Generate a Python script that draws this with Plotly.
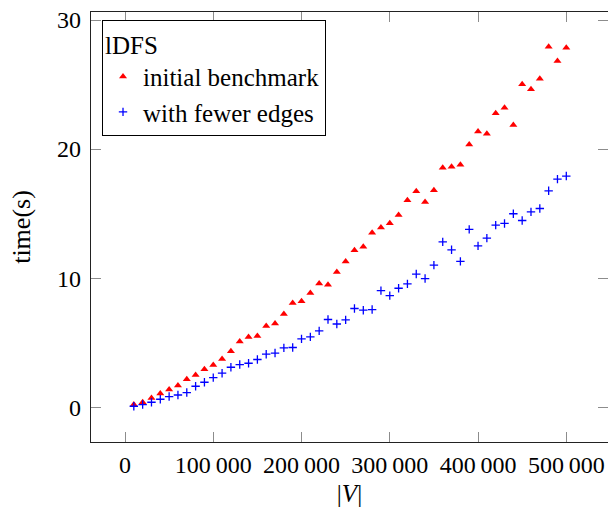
import plotly.graph_objects as go

# Number of vertices |V| for each run
vertices = [k * 10000 for k in range(1, 51)]

# Running times (s) of lDFS
initial_benchmark = [
    0.21, 0.39, 0.72, 1.06, 1.37, 1.68, 2.17, 2.50, 2.95, 3.28,
    3.74, 4.34, 5.10, 5.44, 5.53, 6.29, 6.49, 7.22, 8.08, 8.22,
    8.85, 9.58, 9.50, 10.48, 11.29, 12.16, 12.43, 13.51, 13.93, 14.25,
    14.90, 16.04, 16.74, 15.90, 16.81, 18.55, 18.63, 18.79, 20.36, 21.37,
    21.19, 22.77, 23.20, 21.86, 25.02, 24.63, 25.45, 27.93, 26.82, 27.85,
]
fewer_edges = [
    0.08, 0.21, 0.39, 0.62, 0.83, 0.95, 1.14, 1.63, 1.94, 2.30,
    2.64, 3.10, 3.31, 3.41, 3.70, 4.11, 4.20, 4.60, 4.63, 5.30,
    5.45, 5.92, 6.80, 6.45, 6.77, 7.65, 7.52, 7.57, 9.04, 8.65,
    9.22, 9.56, 10.32, 9.97, 11.01, 12.81, 12.20, 11.30, 13.78, 12.50,
    13.10, 14.11, 14.24, 14.99, 14.47, 15.14, 15.40, 16.77, 17.67, 17.91,
]

x_tick_vals = [0, 100000, 200000, 300000, 400000, 500000]
x_tick_text = ["0", "100\u2009000", "200\u2009000", "300\u2009000", "400\u2009000", "500\u2009000"]
y_tick_vals = [0, 10, 20, 30]
y_tick_text = ["0", "10", "20", "30"]

FONT = "Liberation Serif"

fig = go.Figure()
fig.add_trace(go.Scatter(
    x=vertices, y=initial_benchmark, mode="markers", name="initial benchmark",
    marker=dict(symbol="triangle-up", size=7, color="red", line=dict(width=0)),
))
fig.add_trace(go.Scatter(
    x=vertices, y=fewer_edges, mode="markers", name="with fewer edges",
    marker=dict(symbol="cross-thin", size=6, color="blue",
                line=dict(color="blue", width=1.3)),
))

axis_common = dict(
    showgrid=False, zeroline=False,
    showline=True, linecolor="#222222", linewidth=1.3, mirror="ticks",
    ticks="inside", ticklen=10, tickwidth=1.3, tickcolor="#8c8c8c",
    tickfont=dict(family=FONT, size=24, color="black"),
    tickmode="array",
)

fig.update_layout(
    width=608, height=508,
    margin=dict(l=91, r=0, t=12, b=66),
    paper_bgcolor="white", plot_bgcolor="white",
    font=dict(family=FONT, size=24, color="black"),
    showlegend=True,
    legend=dict(
        x=0.0213, y=0.981, xanchor="left", yanchor="top",
        bgcolor="white", bordercolor="black", borderwidth=1,
        font=dict(family=FONT, size=25, color="black"),
        title=dict(text="lDFS", font=dict(family=FONT, size=25, color="black")),
        itemwidth=30, tracegroupgap=0,
    ),
    xaxis=dict(
        axis_common, range=[-38520, 547250],
        tickvals=x_tick_vals, ticktext=x_tick_text, ticklabelstandoff=1,
        title=dict(text="|<i>V</i>|", font=dict(family=FONT, size=25), standoff=7),
    ),
    yaxis=dict(
        axis_common, range=[-2.69, 30.62],
        tickvals=y_tick_vals, ticktext=y_tick_text, ticklabelstandoff=4,
        title=dict(text="time(s)", font=dict(family=FONT, size=26), standoff=18),
    ),
)

fig.write_html("out.html")
